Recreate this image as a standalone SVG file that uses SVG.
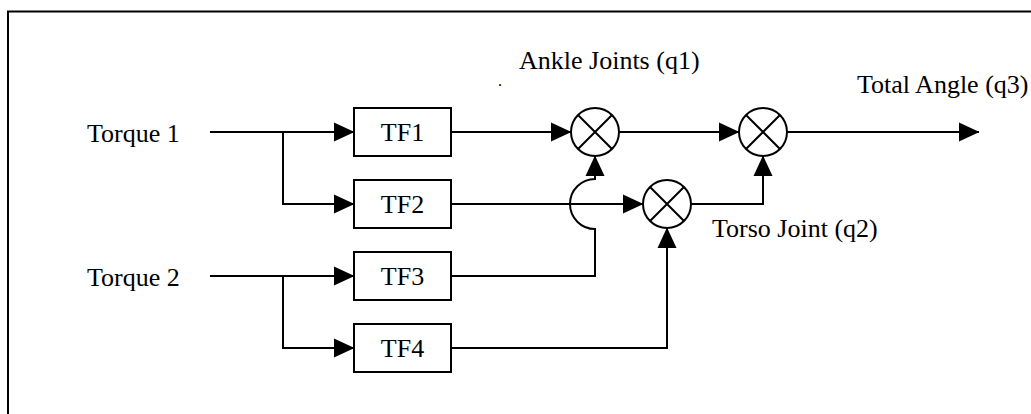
<svg xmlns="http://www.w3.org/2000/svg" width="1031" height="414" viewBox="0 0 1031 414">
<style>
text{font-family:"Liberation Serif","Times New Roman",serif;font-size:26px;fill:#000}
.ln{fill:none;stroke:#000;stroke-width:2}
.box{fill:#fff;stroke:#000;stroke-width:2}
.sum{fill:#fff;stroke:#000;stroke-width:2}
.mid{text-anchor:middle}
</style>
<defs>
<marker id="arr" markerUnits="userSpaceOnUse" markerWidth="21" markerHeight="20" refX="20" refY="10" orient="auto" viewBox="0 0 21 20">
<path d="M0,0.5 L20.5,10 L0,19.5 Z" fill="#000"/>
</marker>
</defs>
<rect width="1031" height="414" fill="#fff"/>
<path class="ln" d="M8,414 V11.5 H1031"/>
<g id="torque1"><text x="87" y="142">Torque 1</text></g>
<g id="torque2"><text x="87" y="286">Torque 2</text></g>
<g id="tf1"><rect class="box" x="354" y="108" width="97" height="48"/><text class="mid" x="402.5" y="141">TF1</text></g>
<g id="tf2"><rect class="box" x="354" y="180" width="97" height="48"/><text class="mid" x="402.5" y="213">TF2</text></g>
<g id="tf3"><rect class="box" x="354" y="252" width="97" height="48"/><text class="mid" x="402.5" y="285">TF3</text></g>
<g id="tf4"><rect class="box" x="354" y="324" width="97" height="48"/><text class="mid" x="402.5" y="357">TF4</text></g>
<g id="sum1"><circle class="sum" cx="595" cy="132" r="24"/><path class="ln" d="M578,115 L612,149 M612,115 L578,149"/></g>
<g id="sum2"><circle class="sum" cx="667" cy="204" r="24"/><path class="ln" d="M650,187 L684,221 M684,187 L650,221"/></g>
<g id="sum3"><circle class="sum" cx="763" cy="132" r="24"/><path class="ln" d="M746,115 L780,149 M780,115 L746,149"/></g>
<g id="labels">
<text x="519" y="69">Ankle Joints (q1)</text>
<text x="498" y="85.5" style="font-size:16px">.</text>
<text x="857" y="93">Total Angle (q3)</text>
<text x="712" y="237">Torso Joint (q2)</text>
</g>
<g id="connectors">
<path class="ln" d="M210,132 H354" marker-end="url(#arr)"/>
<path class="ln" d="M283,132 V204 H354" marker-end="url(#arr)"/>
<path class="ln" d="M210,276 H354" marker-end="url(#arr)"/>
<path class="ln" d="M283,276 V348 H354" marker-end="url(#arr)"/>
<path class="ln" d="M451,132 H571" marker-end="url(#arr)"/>
<path class="ln" d="M451,204 H643" marker-end="url(#arr)"/>
<path class="ln" d="M451,276 H595 V229 A25,25 0 0 1 595,179 V156" marker-end="url(#arr)"/>
<path class="ln" d="M451,348 H667 V228" marker-end="url(#arr)"/>
<path class="ln" d="M619,132 H739" marker-end="url(#arr)"/>
<path class="ln" d="M691,204 H763 V156" marker-end="url(#arr)"/>
<path class="ln" d="M787,132 H979" marker-end="url(#arr)"/>
</g>
</svg>
